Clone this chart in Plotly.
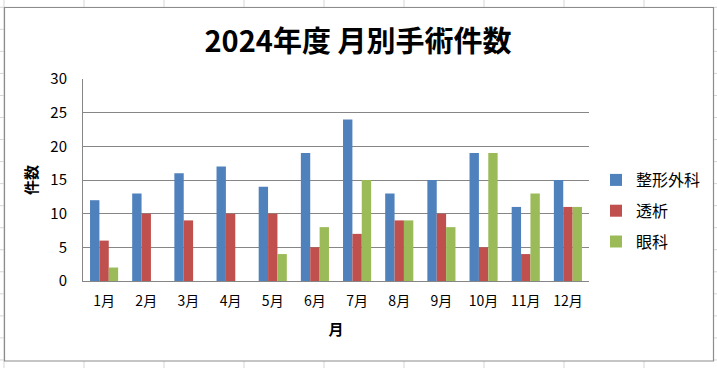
import plotly.graph_objects as go

months = ["1月", "2月", "3月", "4月", "5月", "6月", "7月", "8月", "9月", "10月", "11月", "12月"]
seikei = [12, 13, 16, 17, 14, 19, 24, 13, 15, 19, 11, 15]
touseki = [6, 10, 9, 10, 10, 5, 7, 9, 10, 5, 4, 11]
ganka = [2, 0, 0, 0, 4, 8, 15, 9, 8, 19, 13, 11]
series_names = ["整形外科", "透析", "眼科"]
colors = ["#4F81BD", "#C0504D", "#9BBB59"]
y_ticks = [0, 5, 10, 15, 20, 25, 30]

W, H = 717, 368
L, R, T, B = 83, 589, 79, 281
FONT = "Noto Sans CJK JP"

def px(x):
    return (x - L) / (R - L)

def py(y):
    return (B - y) / (B - T)

fig = go.Figure()
for name, vals, c in zip(series_names, [seikei, touseki, ganka], colors):
    fig.add_trace(go.Bar(x=months, y=vals, name=name, legendgroup=name,
                         marker=dict(color=c, line=dict(width=0))))

shapes = []
# spreadsheet cell grid behind the chart
grid_col = "#d6d6d6"
x = 4
while x < W + 5:
    shapes.append(dict(type="line", xref="paper", yref="paper", x0=px(x), x1=px(x), y0=py(0), y1=py(H),
                       line=dict(color=grid_col, width=1), layer="below"))
    x += 80
y = 7.3
while y < H + 5:
    shapes.append(dict(type="line", xref="paper", yref="paper", x0=px(0), x1=px(W), y0=py(y), y1=py(y),
                       line=dict(color=grid_col, width=1), layer="below"))
    y += 22.04
# chart area
shapes.append(dict(type="rect", xref="paper", yref="paper", x0=px(4.5), x1=px(713.5), y0=py(7.5), y1=py(361),
                   fillcolor="white", line=dict(color="#8c8c8c", width=1.2), layer="below"))

fig.update_layout(
    width=W, height=H,
    margin=dict(l=L, r=W - R, t=T, b=H - B, pad=0, autoexpand=False),
    paper_bgcolor="white",
    plot_bgcolor="rgba(0,0,0,0)",
    barmode="group", bargap=1.5 / 4.5, bargroupgap=0,
    title=dict(text="<b>2024年度 月別手術件数</b>", xref="container", x=358 / W, xanchor="center",
               y=1 - 42 / H, yanchor="middle",
               font=dict(family=FONT, size=29, color="black")),
    font=dict(family=FONT, size=14, color="black"),
    showlegend=True,
    legend=dict(x=px(596), xanchor="left", y=py(211), yanchor="middle", tracegroupgap=7,
                font=dict(family=FONT, size=16, color="black"), itemwidth=30, bgcolor="rgba(0,0,0,0)"),
    shapes=shapes,
)
fig.update_xaxes(
    showline=True, linecolor="#868686", linewidth=1, showgrid=False, automargin=False,
    ticks="", tickfont=dict(size=14), ticklabelstandoff=7,
    title=dict(text="<b>月</b>", font=dict(size=15), standoff=15),
)
fig.update_yaxes(
    range=[0, 30], tickvals=y_ticks, showline=True, linecolor="#868686", linewidth=1, automargin=False,
    showgrid=True, gridcolor="#868686", gridwidth=1, zeroline=False,
    ticks="", tickfont=dict(size=15), ticklabelstandoff=12,
    title=dict(text="<b>件数</b>", font=dict(size=15), standoff=9),
)
fig.write_html("out.html", config={"displayModeBar": False},
               post_script="document.body.style.margin='0';document.body.style.padding='0';document.body.style.overflow='hidden';")
